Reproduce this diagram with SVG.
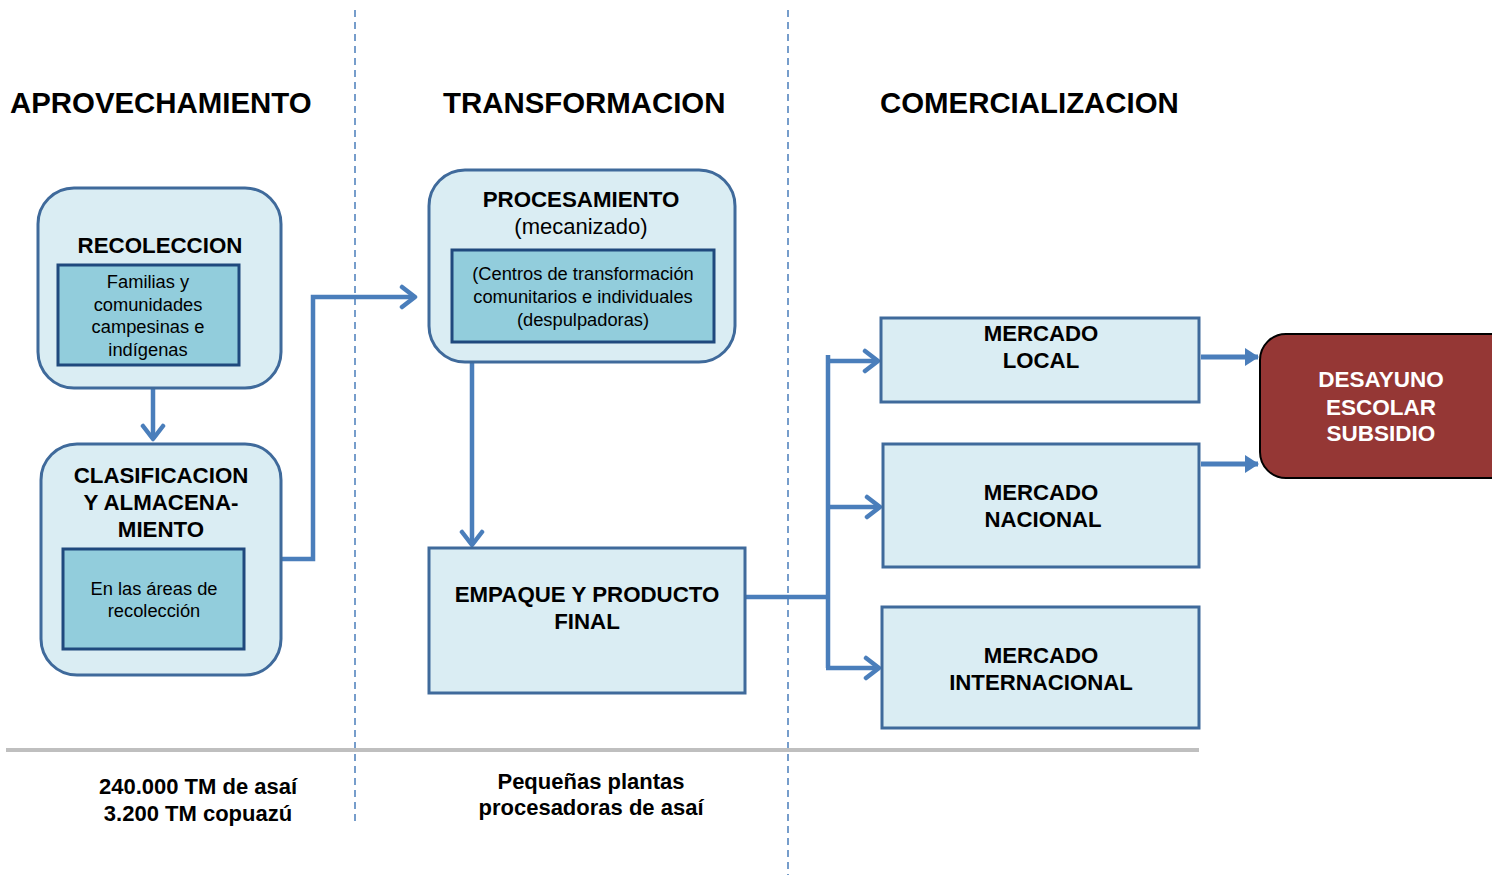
<svg xmlns="http://www.w3.org/2000/svg" width="1492" height="875" viewBox="0 0 1492 875">
<defs>
<style>
.t{font-family:"Liberation Sans",Arial,sans-serif;fill:#000;text-anchor:middle}
.b{font-weight:bold}
.h{font-family:"Liberation Sans",Arial,sans-serif;font-weight:bold;font-size:29.4px;fill:#000}
.outer{fill:#daedf3;stroke:#3f6a9b;stroke-width:3}
.inner{fill:#92cddc;stroke:#1f497d;stroke-width:3}
.con{fill:none;stroke:#4a7ebb;stroke-width:4.5}
.dash{stroke:#4a7ebb;stroke-width:1.5;stroke-dasharray:7,5}
.w{fill:#fff}
</style>
<marker id="chev" markerWidth="20" markerHeight="26" refX="16" refY="13" orient="auto" markerUnits="userSpaceOnUse" viewBox="0 0 20 26">
<path d="M3,3 L16,13 L3,23" fill="none" stroke="#4a7ebb" stroke-width="4.5" stroke-linecap="round" stroke-linejoin="round"/>
</marker>
<marker id="tri" markerWidth="14" markerHeight="18" refX="13" refY="9" orient="auto" markerUnits="userSpaceOnUse" viewBox="0 0 14 18">
<path d="M0,0 L14,9 L0,18 Z" fill="#4a7ebb"/>
</marker>
</defs>
<rect width="1492" height="875" fill="#fff"/>
<g id="guides">
<line class="dash" x1="355" y1="10" x2="355" y2="822"/>
<line class="dash" x1="788" y1="10" x2="788" y2="875"/>
<line x1="6" y1="750" x2="1199" y2="750" stroke="#bfbfbf" stroke-width="4"/>
</g>
<g id="headings">
<text class="h" x="10" y="113">APROVECHAMIENTO</text>
<text class="h" x="443" y="113">TRANSFORMACION</text>
<text class="h" x="880" y="113">COMERCIALIZACION</text>
</g>
<g id="connectors">
<line class="con" x1="153" y1="388" x2="153" y2="439" marker-end="url(#chev)"/>
<polyline class="con" points="281,559 313,559 313,297 415,297" marker-end="url(#chev)"/>
<line class="con" x1="472" y1="362" x2="472" y2="545" marker-end="url(#chev)"/>
<polyline class="con" points="745,597 828,597"/>
<line class="con" x1="828" y1="355" x2="828" y2="668"/>
<line class="con" x1="826" y1="361" x2="878" y2="361" marker-end="url(#chev)"/>
<line class="con" x1="828" y1="507" x2="880" y2="507" marker-end="url(#chev)"/>
<line class="con" x1="826" y1="668" x2="879" y2="668" marker-end="url(#chev)"/>
<line x1="1201" y1="357" x2="1258" y2="357" stroke="#4a7ebb" stroke-width="5" marker-end="url(#tri)"/>
<line x1="1201" y1="464" x2="1258" y2="464" stroke="#4a7ebb" stroke-width="5" marker-end="url(#tri)"/>
</g>
<g id="recoleccion">
<rect class="outer" x="38" y="188" width="243" height="200" rx="36"/>
<text class="t b" x="160" y="253" font-size="22.3">RECOLECCION</text>
<rect class="inner" x="58" y="265" width="181" height="100"/>
<text class="t" x="148" y="288" font-size="18.3">Familias y</text>
<text class="t" x="148" y="311" font-size="18.3">comunidades</text>
<text class="t" x="148" y="333" font-size="18.3">campesinas e</text>
<text class="t" x="148" y="356" font-size="18.3">indígenas</text>
</g>
<g id="clasificacion">
<rect class="outer" x="41" y="444" width="240" height="231" rx="36"/>
<text class="t b" x="161" y="483" font-size="22.3">CLASIFICACION</text>
<text class="t b" x="161" y="510" font-size="22.3">Y ALMACENA-</text>
<text class="t b" x="161" y="537" font-size="22.3">MIENTO</text>
<rect class="inner" x="63" y="549" width="181" height="100"/>
<text class="t" x="154" y="595" font-size="18.3">En las áreas de</text>
<text class="t" x="154" y="617" font-size="18.3">recolección</text>
</g>
<g id="procesamiento">
<rect class="outer" x="429" y="170" width="306" height="192" rx="36"/>
<text class="t b" x="581" y="207" font-size="22.3">PROCESAMIENTO</text>
<text class="t" x="581" y="234" font-size="22">(mecanizado)</text>
<rect class="inner" x="452" y="250" width="262" height="92"/>
<text class="t" x="583" y="280" font-size="18.3">(Centros de transformación</text>
<text class="t" x="583" y="303" font-size="18.3">comunitarios e individuales</text>
<text class="t" x="583" y="326" font-size="18.3">(despulpadoras)</text>
</g>
<g id="empaque">
<rect class="outer" x="429" y="548" width="316" height="145"/>
<text class="t b" x="587" y="602" font-size="22.3">EMPAQUE Y PRODUCTO</text>
<text class="t b" x="587" y="629" font-size="22.3">FINAL</text>
</g>
<g id="mercado-local">
<rect class="outer" x="881" y="318" width="318" height="84"/>
<text class="t b" x="1041" y="341" font-size="22.2">MERCADO</text>
<text class="t b" x="1041" y="368" font-size="22.2">LOCAL</text>
</g>
<g id="mercado-nacional">
<rect class="outer" x="883" y="444" width="316" height="123"/>
<text class="t b" x="1041" y="500" font-size="22.2">MERCADO</text>
<text class="t b" x="1043" y="527" font-size="22.2">NACIONAL</text>
</g>
<g id="mercado-internacional">
<rect class="outer" x="882" y="607" width="317" height="121"/>
<text class="t b" x="1041" y="663" font-size="22.2">MERCADO</text>
<text class="t b" x="1041" y="690" font-size="22.2">INTERNACIONAL</text>
</g>
<g id="desayuno">
<rect x="1260" y="334" width="260" height="144" rx="26" fill="#953735" stroke="#000" stroke-width="2"/>
<text class="t b w" x="1381" y="387" font-size="22.5">DESAYUNO</text>
<text class="t b w" x="1381" y="415" font-size="22.5">ESCOLAR</text>
<text class="t b w" x="1381" y="441" font-size="22.5">SUBSIDIO</text>
</g>
<g id="notes">
<text class="t b" x="198" y="794" font-size="22">240.000 TM de asaí</text>
<text class="t b" x="198" y="821" font-size="22">3.200 TM copuazú</text>
<text class="t b" x="591" y="789" font-size="22">Pequeñas plantas</text>
<text class="t b" x="591" y="815" font-size="22">procesadoras de asaí</text>
</g>
</svg>
